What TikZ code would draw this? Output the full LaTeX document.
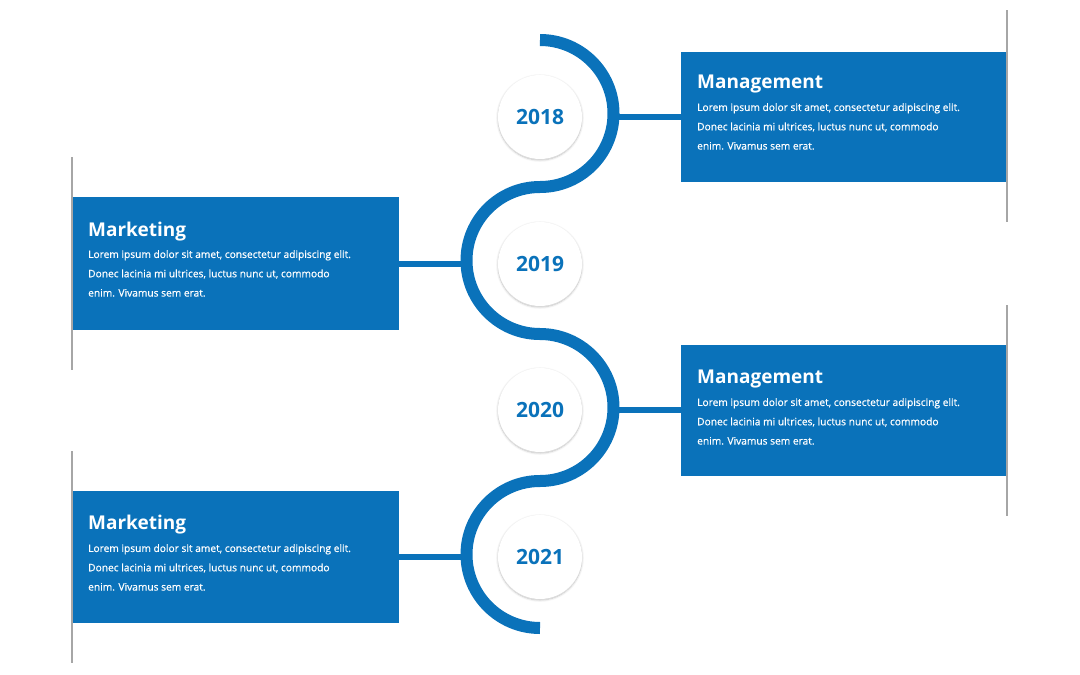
\documentclass[tikz,border=0pt]{standalone}
\usepackage{fontspec}
\setmainfont{Open Sans}
\newfontfamily\bodyfont[FakeBold=0.6]{Open Sans}
\usetikzlibrary{shadows.blur}
\definecolor{tblue}{HTML}{0A72BA}
\begin{document}
\begin{tikzpicture}[x=1pt,y=-1pt,
  panel/.style={fill=tblue,draw=none},
  edge/.style={gray!70,line width=1.5pt},
  yearc/.style={circle,fill=white,minimum size=84pt,inner sep=0pt,blur shadow={shadow blur steps=8,shadow xshift=0pt,shadow yshift=-1pt,shadow opacity=25},text=tblue,font=\bfseries\fontsize{21}{21}\selectfont},
  ttl/.style={anchor=north west,text=white,font=\bfseries\fontsize{19}{19}\selectfont,inner sep=0pt},
  bdy/.style={anchor=north west,text=white,font=\bodyfont\fontsize{10.2}{19.3}\selectfont,inner sep=0pt,align=left},
  link/.style={tblue,line width=6pt}]
\useasboundingbox (0,0) rectangle (1080,675);
% serpentine
\draw[tblue,line width=12pt] (540,40) arc[start angle=-90,end angle=90,radius=73.5]
  arc[start angle=-90,end angle=-270,radius=73.5]
  arc[start angle=-90,end angle=90,radius=73.5]
  arc[start angle=-90,end angle=-270,radius=73.5];
\coordinate (a1) at (613,117);
\coordinate (a2) at (467,264);
\coordinate (a3) at (613,410);
\coordinate (a4) at (467,557);
% panels
\fill[panel] (681,52) rectangle (1007,182);
\fill[panel] (72,197) rectangle (399,330);
\fill[panel] (681,345) rectangle (1007,476);
\fill[panel] (72,491) rectangle (399,623);
\coordinate (b1) at (681,117); \coordinate (b2) at (399,264);
\coordinate (b3) at (681,410); \coordinate (b4) at (399,557);
\draw[link] (a1) -- (b1); \draw[link] (b2) -- (a2);
\draw[link] (a3) -- (b3); \draw[link] (b4) -- (a4);
% year circles
\node[yearc] (y1) at (540,117) {2018};
\node[yearc] (y2) at (540,264) {2019};
\node[yearc] (y3) at (540,410) {2020};
\node[yearc] (y4) at (540,557) {2021};
\coordinate (g1a) at (1007,10); \coordinate (g1b) at (1007,222);
\coordinate (g2a) at (72,157); \coordinate (g2b) at (72,370);
\coordinate (g3a) at (1007,305); \coordinate (g3b) at (1007,516);
\coordinate (g4a) at (72,451); \coordinate (g4b) at (72,663);
\draw[edge] (g1a) -- (g1b); \draw[edge] (g2a) -- (g2b);
\draw[edge] (g3a) -- (g3b); \draw[edge] (g4a) -- (g4b);
% texts
\node[ttl] (t1) at (697,75) {Management};
\node[bdy] (d1) at (697,103) {Lorem ipsum dolor sit amet, consectetur adipiscing elit.\\Donec lacinia mi ultrices, luctus nunc ut, commodo\\enim. Vivamus sem erat.};
\node[ttl] (t2) at (88,222) {Marketing};
\node[bdy] (d2) at (88,250) {Lorem ipsum dolor sit amet, consectetur adipiscing elit.\\Donec lacinia mi ultrices, luctus nunc ut, commodo\\enim. Vivamus sem erat.};
\node[ttl] (t3) at (697,370) {Management};
\node[bdy] (d3) at (697,398) {Lorem ipsum dolor sit amet, consectetur adipiscing elit.\\Donec lacinia mi ultrices, luctus nunc ut, commodo\\enim. Vivamus sem erat.};
\node[ttl] (t4) at (88,515) {Marketing};
\node[bdy] (d4) at (88,544) {Lorem ipsum dolor sit amet, consectetur adipiscing elit.\\Donec lacinia mi ultrices, luctus nunc ut, commodo\\enim. Vivamus sem erat.};
\end{tikzpicture}
\end{document}
